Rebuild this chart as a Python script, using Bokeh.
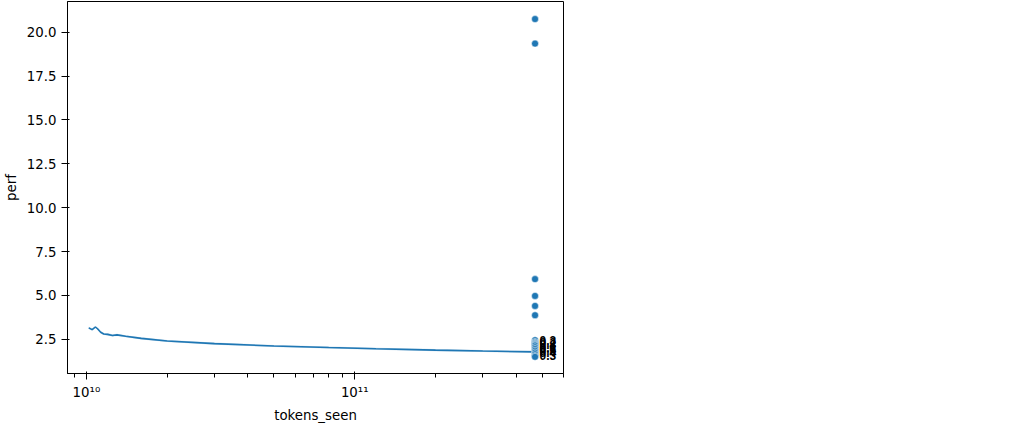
import numpy as np
from bokeh.plotting import figure
from bokeh.models import Legend, LegendItem, FixedTicker
from bokeh.embed import file_html
from bokeh.resources import INLINE

line_x = [1.02e10, 1.05e10, 1.08e10, 1.1e10, 1.13e10, 1.16e10, 1.2e10, 1.25e10, 1.3e10, 1.4e10, 1.6e10, 2e10, 3e10, 5e10, 8e10, 1.2e11, 2e11, 3e11, 4.7e11]
line_y = [3.15, 3.05, 3.2, 3.1, 2.9, 2.8, 2.78, 2.72, 2.75, 2.67, 2.55, 2.4, 2.25, 2.12, 2.03, 1.96, 1.88, 1.83, 1.78]
pt_x = 4.7e11
pt_y = [20.75, 19.35, 5.93, 4.97, 4.4, 3.87, 2.45, 2.35, 2.3, 2.25, 2.2, 2.15, 2.05, 1.95, 1.85, 1.75, 1.65, 1.55, 1.5]
lab_y = [2.45, 2.3, 2.2, 2.05, 1.95, 1.85, 1.75, 1.6]
lab_t = ["0.3", "0.2", "0.8", "0.1", "0.6", "0.5", "0.4", "0.3"]

p = figure(frame_width=496, frame_height=372, x_axis_type="log", output_backend="svg", toolbar_location=None,
           x_range=(8.5e9, 6.0e11), y_range=(0.55, 21.75),
           min_border_left=62, min_border_right=450, min_border_top=1, min_border_bottom=40)
p.grid.visible = False
p.outline_line_color = "black"
p.xaxis.axis_label = "tokens_seen"
p.yaxis.axis_label = "perf"
for ax in (p.xaxis[0], p.yaxis[0]):
    ax.axis_label_text_font_style = "normal"
    ax.axis_label_text_font = "DejaVu Sans"
    ax.major_label_text_font = "DejaVu Sans"
    ax.axis_label_text_font_size = "10pt"
    ax.major_label_text_font_size = "10pt"
    ax.axis_label_text_color = "black"
    ax.major_label_text_color = "black"
p.yaxis.ticker = FixedTicker(ticks=[2.5, 5, 7.5, 10, 12.5, 15, 17.5, 20])
p.yaxis.major_label_overrides = {2.5: "2.5", 5: "5.0", 7.5: "7.5", 10: "10.0", 12.5: "12.5", 15: "15.0", 17.5: "17.5", 20: "20.0"}
p.xaxis.ticker = FixedTicker(ticks=[1e10, 1e11], minor_ticks=[k * 10**e for e in (9, 10, 11) for k in range(2, 10)])
p.xaxis.major_label_overrides = {1e10: "10\u00b9\u2070", 1e11: "10\u00b9\u00b9"}
p.yaxis.minor_tick_line_color = None

ly = np.array(line_y)
p.varea(x=line_x, y1=ly - 0.06, y2=ly + 0.06, fill_color="#1f77b4", fill_alpha=0.25)
r = p.line(line_x, line_y, line_color="#1f77b4", line_width=1.6)
p.scatter([pt_x] * len(pt_y), pt_y, size=7, fill_color="#1f77b4", line_color="white", line_width=0.5)
p.text([pt_x * 1.04] * len(lab_y), lab_y, text=lab_t, text_font_size="9pt", text_baseline="middle",
       text_font_style="bold")

leg = Legend(items=[LegendItem(label="gpt3 - arxiv.org-abs-2005.14165 GPT-3 175B or \u201cGPT-3\u201d", renderers=[r])],
             title="original_paper:gpt3 - arxiv.org-abs-2005.14165", location=(517, 321),
             label_text_font="DejaVu Sans", label_text_font_size="10pt",
             title_text_font="DejaVu Sans", title_text_font_size="10pt", title_text_font_style="normal",
             border_line_color="#cccccc", margin=0, padding=6, spacing=2)
p.add_layout(leg, "center")
open("out.html", "w").write(file_html(p, INLINE))
